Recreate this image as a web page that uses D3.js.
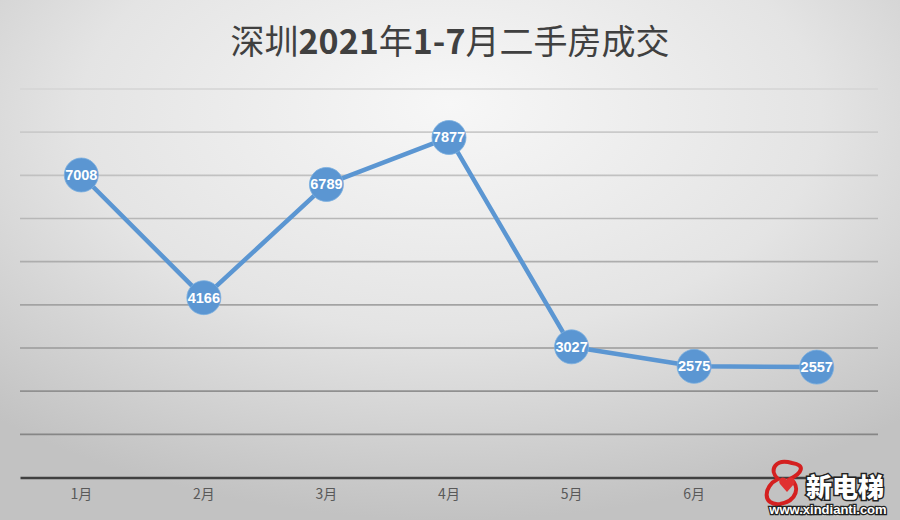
<!DOCTYPE html>
<html><head><meta charset="utf-8">
<script src="https://cdn.jsdelivr.net/npm/d3@7"></script>
<style>html,body{margin:0;padding:0;background:#fff}svg{display:block}</style>
</head><body>
<svg id="c" width="900" height="520"></svg>
<script>
const months = ["1月","2月","3月","4月","5月","6月","7月"];
const volumes = [7008, 4166, 6789, 7877, 3027, 2575, 2557];
const yTicks = [0,1000,2000,3000,4000,5000,6000,7000,8000,9000];

const W = 900, H = 520;
const svg = d3.select("#c");
const defs = svg.append("defs");
const rg = defs.append("radialGradient").attr("id","bg")
  .attr("cx","50%").attr("cy","25%").attr("r","75%").attr("fx","50%").attr("fy","20%");
rg.append("stop").attr("offset","0%").attr("stop-color","#f7f7f7");
rg.append("stop").attr("offset","55%").attr("stop-color","#e4e4e4");
rg.append("stop").attr("offset","100%").attr("stop-color","#c2c2c2");
svg.append("rect").attr("width",W).attr("height",H).attr("fill","url(#bg)");

const x = d3.scaleBand().domain(months).range([20, 878]);
const y = d3.scaleLinear().domain([0, 9000]).range([477.5, 89]);
const shade = d3.scaleLinear().domain([9000, 1000]).range(["#d4d4d4", "#868686"]);

// gridlines
svg.append("g").selectAll("line").data(yTicks.filter(d => d > 0)).join("line")
  .attr("x1", 20).attr("x2", 878)
  .attr("y1", d => y(d)).attr("y2", d => y(d))
  .attr("stroke", d => shade(d)).attr("stroke-width", 1.6);

// x axis
const xAxis = svg.append("g").attr("transform", `translate(0,${y(0)})`)
  .call(d3.axisBottom(x).tickSize(0).tickPadding(12));
xAxis.select(".domain").attr("stroke","#404040").attr("stroke-width",2.6);
xAxis.selectAll("text").attr("fill","#595959")
  .style("font-family","'Noto Sans CJK SC','Microsoft YaHei',sans-serif").style("font-size","14px");

// title
const title = svg.append("text").attr("x", 450).attr("y", 54).attr("text-anchor","middle")
  .attr("fill","#404040").style("font-family","'Noto Sans CJK SC',sans-serif").style("font-size","34px");
[["深圳",400],["2021",700],["年",400],["1-7",700],["月二手房成交",400]].forEach(([t,w]) =>
  title.append("tspan").attr("font-weight", w).text(t));

// line
const cx = d => x(d) + x.bandwidth()/2;
const pts = months.map((m,i) => [cx(m), y(volumes[i])]);
svg.append("path").datum(pts).attr("d", d3.line())
  .attr("fill","none").attr("stroke","#5b96d2").attr("stroke-width",4.5).attr("stroke-linejoin","round");

svg.append("g").selectAll("circle").data(pts).join("circle")
  .attr("cx", d => d[0]).attr("cy", d => d[1]).attr("r", 17)
  .attr("fill","#5b96d2").attr("stroke","#7aaee0").attr("stroke-width",0.8);

svg.append("g").selectAll("text").data(volumes).join("text")
  .attr("x", (d,i) => pts[i][0]).attr("y", (d,i) => pts[i][1] + 5)
  .attr("text-anchor","middle").attr("fill","#ffffff")
  .style("font-family","'Liberation Sans',Arial,sans-serif").style("font-weight","bold").style("font-size","14.5px")
  .text(d => d);

// watermark
const wm = svg.append("g");
wm.append("path").attr("d","M792,463 C776,458 768,470 778,479 C763,486 762,506 780,504 C797,501 801,486 790,479 C802,473 806,465 792,463 Z")
  .attr("fill","none").attr("stroke","#d42020").attr("stroke-width",4);
wm.append("path").attr("d","M787,480 c-3,-5 -10,-2 -7,4 l7,8 l7,-8 c3,-6 -4,-9 -7,-4 Z").attr("fill","#e03030");
wm.append("text").attr("x", 845).attr("y", 497).attr("text-anchor","middle")
  .attr("fill","#ffffff").attr("stroke","#222").attr("stroke-width",3).attr("paint-order","stroke")
  .style("font-family","'Noto Sans CJK SC',sans-serif").style("font-weight","900").style("font-size","26px")
  .text("新电梯");
wm.append("text").attr("x", 828).attr("y", 514).attr("text-anchor","middle")
  .attr("fill","#ffffff").attr("stroke","#222").attr("stroke-width",2.5).attr("paint-order","stroke")
  .style("font-family","'Liberation Sans',Arial,sans-serif").style("font-weight","bold").style("font-size","13px")
  .text("www.xindianti.com");
</script>
</body></html>
